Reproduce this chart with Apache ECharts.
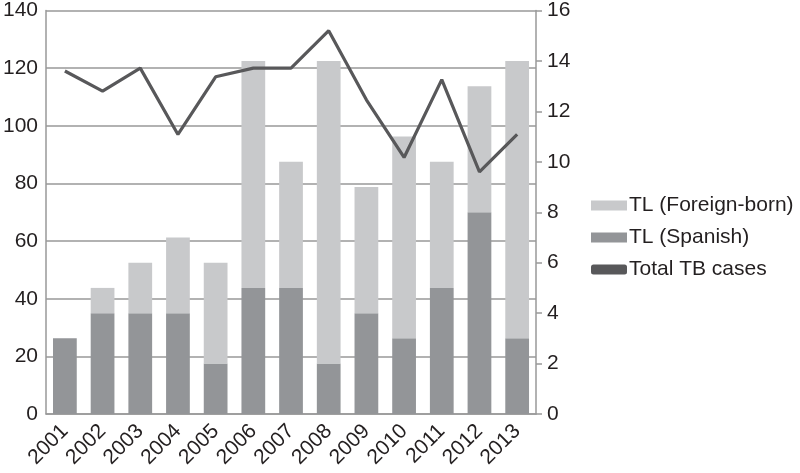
<!DOCTYPE html>
<html>
<head>
<meta charset="utf-8">
<script src="https://cdn.jsdelivr.net/npm/echarts@6/dist/echarts.min.js"></script>
<style>html,body{margin:0;padding:0;background:#fff}#c{width:800px;height:473px}</style>
</head>
<body>
<div id="c"></div>
<script>
const years = ['2001','2002','2003','2004','2005','2006','2007','2008','2009','2010','2011','2012','2013'];
const tlSpanish = [3,4,4,4,2,5,5,2,4,3,5,8,3];
const tlForeign = [0,1,2,3,4,9,5,12,5,8,5,5,11];
const totalTB = [119,112,120,97,117,120,120,133,109,89,116,84,97];

const font = 'Liberation Sans, Arial, Helvetica, sans-serif';
const chart = echarts.init(document.getElementById('c'));
chart.setOption({
  animation: false,
  backgroundColor: '#fff',
  textStyle: { fontFamily: font },
  grid: { left: 43, right: 264, top: 10, bottom: 59, containLabel: false },
  legend: {
    orient: 'vertical', left: 586, top: 190,
    itemWidth: 36, itemHeight: 10, itemGap: 11,
    textStyle: { fontSize: 21, color: '#231f20', fontFamily: font, padding: [0,0,0,-3] },
    data: [
      { name: 'TL (Foreign-born)', icon: 'rect' },
      { name: 'TL (Spanish)', icon: 'rect' },
      { name: 'Total TB cases', icon: 'roundRect', itemStyle: { color: '#58585a' } }
    ]
  },
  xAxis: {
    type: 'category', data: years,
    axisLine: { lineStyle: { color: '#999', width: 1.5 } },
    axisTick: { show: false },
    axisLabel: { rotate: 45, fontSize: 21, color: '#231f20', margin: 14, interval: 0 }
  },
  yAxis: [
    {
      type: 'value', min: 0, max: 140, interval: 20, position: 'left',
      axisLine: { show: true, lineStyle: { color: '#999', width: 1.5 } },
      axisTick: { show: false },
      axisLabel: { fontSize: 21, color: '#231f20', margin: 8 },
      splitLine: { lineStyle: { color: '#999', width: 1.5 } }
    },
    {
      type: 'value', min: 0, max: 16, interval: 2, position: 'right',
      axisLine: { show: true, lineStyle: { color: '#999', width: 1.5 } },
      axisTick: { show: true, inside: false, length: 6, lineStyle: { color: '#999', width: 1.5 } },
      axisLabel: { fontSize: 21, color: '#231f20', margin: 11 },
      splitLine: { show: false }
    }
  ],
  series: [
    { name: 'TL (Spanish)', type: 'bar', stack: 'tl', yAxisIndex: 1, data: tlSpanish,
      itemStyle: { color: '#939598' }, barCategoryGap: '37%' },
    { name: 'TL (Foreign-born)', type: 'bar', stack: 'tl', yAxisIndex: 1, data: tlForeign,
      itemStyle: { color: '#c8c9cb' }, barCategoryGap: '37%' },
    { name: 'Total TB cases', type: 'line', yAxisIndex: 0, data: totalTB,
      showSymbol: false, symbol: 'none', lineStyle: { color: '#58585a', width: 3.2 }, itemStyle: { color: '#58585a' } }
  ]
});
</script>
</body>
</html>
